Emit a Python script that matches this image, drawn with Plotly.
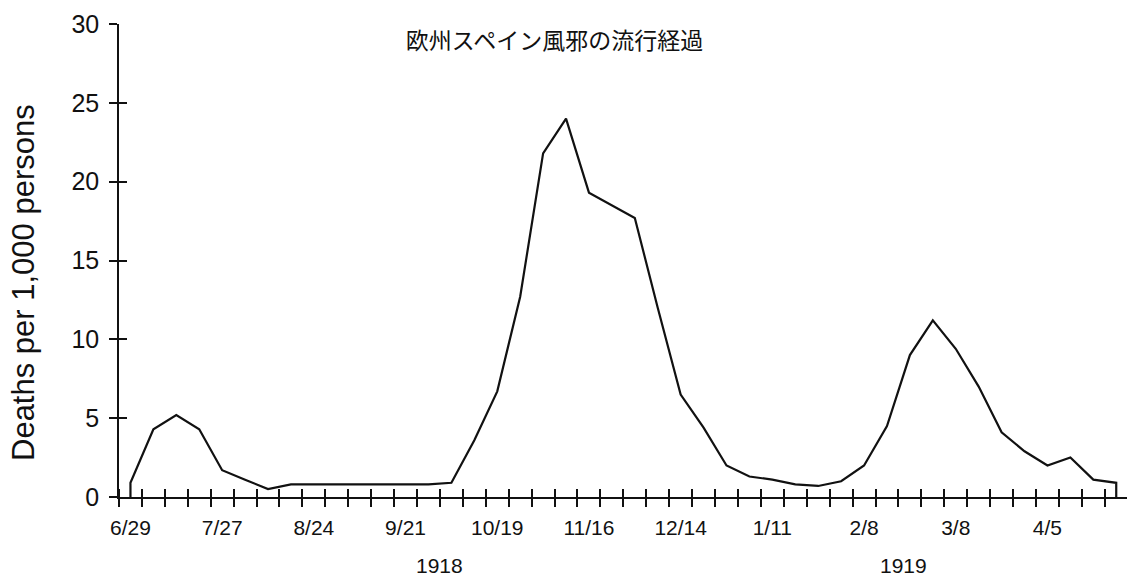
import plotly.graph_objects as go
from datetime import date, timedelta

# ---- data ----
start_date = date(1918, 6, 29)
deaths_per_1000 = [0.9, 4.3, 5.2, 4.3, 1.7, 1.1, 0.5, 0.8, 0.8, 0.8,
                   0.8, 0.8, 0.8, 0.8, 0.9, 3.6, 6.7, 12.7, 21.8, 24.0,
                   19.3, 18.5, 17.7, 12.0, 6.5, 4.4, 2.0, 1.3, 1.1, 0.8,
                   0.7, 1.0, 2.0, 4.5, 9.0, 11.2, 9.4, 7.0, 4.1, 2.9,
                   2.0, 2.5, 1.1, 0.9]
label_every = 4
year_labels = ["1918", "1919"]
year_label_pos = [13.5, 33.7]
y_ticks = [0, 5, 10, 15, 20, 25, 30]
title_text = "欧州スペイン風邪の流行経過"
y_title = "Deaths per 1,000 persons"

n = len(deaths_per_1000)
weeks = list(range(n))
dates = [start_date + timedelta(days=7 * i) for i in weeks]
tick_idx = weeks[::label_every]
tick_text = [f"{dates[i].month}/{dates[i].day}" for i in tick_idx]
week_bounds = [i - 0.5 for i in range(n + 1)]

# outline closes down to the axis at both ends
xs = [weeks[0]] + weeks + [weeks[-1]]
ys = [0] + deaths_per_1000 + [0]

INK = "#111111"
LAT = "Liberation Sans, Arial, sans-serif"

fig = go.Figure()
fig.add_trace(go.Scatter(x=xs, y=ys, mode="lines",
                         line=dict(color=INK, width=2.2), showlegend=False,
                         hoverinfo="skip"))
# dummy trace for overlay axes
fig.add_trace(go.Scatter(x=[weeks[0]], y=[0], xaxis="x2", yaxis="y2",
                         mode="markers", marker=dict(opacity=0),
                         showlegend=False, hoverinfo="skip"))

xr = [-0.5, 43.47]
yr = [0, 30]
PLOT_W = 1127 - 119
PLOT_H = 576 - 24 - 79

fig.update_layout(
    width=1127, height=576,
    margin=dict(l=119, r=0, t=24, b=79, autoexpand=False),
    paper_bgcolor="white", plot_bgcolor="white",
    font=dict(family=LAT, color=INK),
    xaxis=dict(range=xr, showgrid=False, zeroline=False, automargin=False,
               showline=True, linecolor=INK, linewidth=1.5,
               tickmode="array", tickvals=tick_idx, ticktext=tick_text,
               ticks="", ticklabelstandoff=11,
               tickfont=dict(size=21, family=LAT, color=INK),
               minor=dict(tickmode="array", tickvals=week_bounds,
                          ticks="outside", ticklen=8, tickwidth=1.5,
                          tickcolor=INK, showgrid=False)),
    xaxis2=dict(range=xr, overlaying="x", anchor="y", side="bottom",
                automargin=False,
                showgrid=False, zeroline=False, showline=False,
                showticklabels=False, tickmode="array", tickvals=[],
                minor=dict(tickmode="array", tickvals=week_bounds,
                           ticks="inside", ticklen=8, tickwidth=1.5,
                           tickcolor=INK, showgrid=False)),
    yaxis=dict(range=yr, showgrid=False, zeroline=False, automargin=False,
               showline=True, linecolor=INK, linewidth=1.5,
               tickmode="array", tickvals=y_ticks,
               ticks="outside", ticklen=8, tickwidth=1.5, tickcolor=INK,
               tickfont=dict(size=25, family=LAT, color=INK),
               ticklabelstandoff=5),
    yaxis2=dict(range=yr, overlaying="y", anchor="x", side="left",
                automargin=False,
                showgrid=False, zeroline=False, showline=False,
                showticklabels=False, tickmode="array", tickvals=y_ticks,
                ticks="inside", ticklen=8, tickwidth=1.5, tickcolor=INK),
    title=dict(text=title_text, x=554.5 / 1127, xanchor="center",
               y=1 - 41 / 576, yanchor="middle", automargin=False,
               font=dict(size=23, family="Noto Sans CJK JP", color=INK)),
)

# y-axis title (rotated)
fig.add_annotation(text=y_title, textangle=-90, showarrow=False,
                   xref="paper", yref="paper",
                   x=(23 - 119) / PLOT_W, y=(497 - 283) / PLOT_H,
                   xanchor="center", yanchor="middle",
                   font=dict(size=31, family=LAT, color=INK))

for txt, pos in zip(year_labels, year_label_pos):
    fig.add_annotation(text=txt, x=pos, xref="x", y=-(565 - 497) / PLOT_H,
                       yref="paper", yanchor="middle", showarrow=False,
                       font=dict(size=21, family=LAT, color=INK))

fig.write_html("out.html", config={"displayModeBar": False},
               post_script="document.body.style.margin='0';"
                           "document.body.style.overflow='hidden';")
